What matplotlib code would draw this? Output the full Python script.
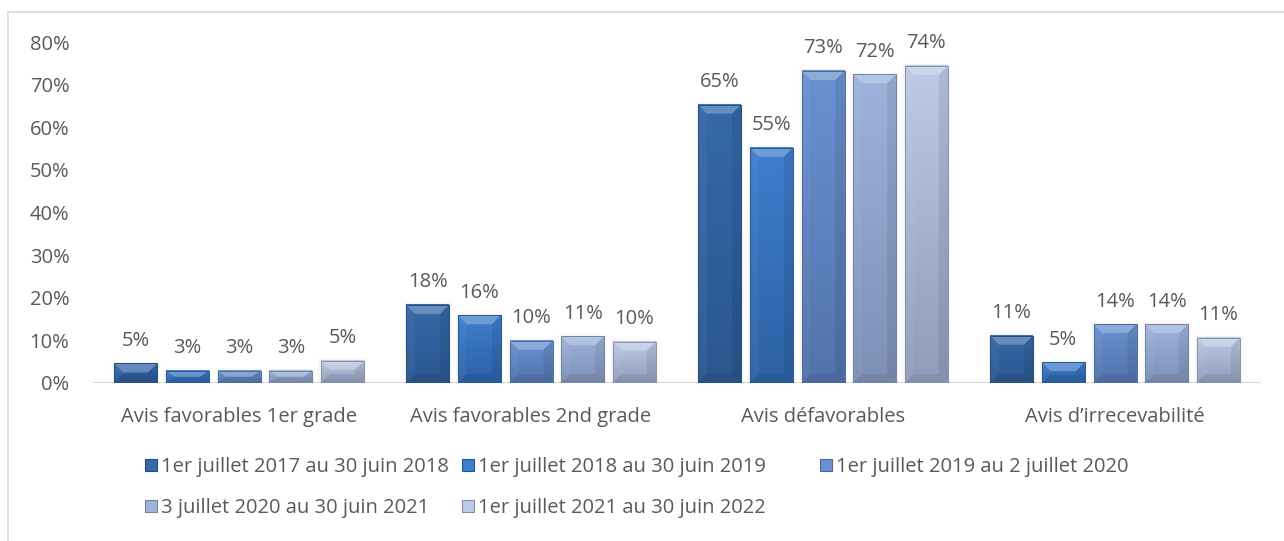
import matplotlib
matplotlib.use("Agg")
import matplotlib.pyplot as plt
import numpy as np
from matplotlib.patches import Polygon, Rectangle
from matplotlib.colors import LinearSegmentedColormap
from matplotlib.lines import Line2D

plt.rcParams['font.family'] = ['Open Sans', 'DejaVu Sans']

###  DATA  ###

categories = ['Avis favorables 1er grade', 'Avis favorables 2nd grade',
              'Avis défavorables', 'Avis d\u2019irrecevabilité']
periods = ['1er juillet 2017 au 30 juin 2018',
           '1er juillet 2018 au 30 juin 2019',
           '1er juillet 2019 au 2 juillet 2020',
           '3 juillet 2020 au 30 juin 2021',
           '1er juillet 2021 au 30 juin 2022']

p2018 = [4.6, 18.3, 65.3, 11.1]
p2019 = [2.9, 15.9, 55.2, 4.9]
p2020 = [2.9, 9.9, 73.2, 13.8]
p2021 = [2.9, 11.0, 72.4, 13.8]
p2022 = [5.2, 9.7, 74.4, 10.6]
series = [p2018, p2019, p2020, p2021, p2022]

yticks = [0, 10, 20, 30, 40, 50, 60, 70, 80]

# face gradient (top colour, bottom colour) and edge colour per period
colors = [('#3569AA', '#2A578F', '#244B7C'),
          ('#3E7ECE', '#2D62A4', '#28558E'),
          ('#6A91CF', '#5173AC', '#4A6A9C'),
          ('#9DB3DC', '#7E90B6', '#72829F'),
          ('#BCCAE6', '#909DBA', '#8590A6')]
txt = '#595959'
fs = 14.5

###  PLOT  ###

W, H = 1284, 541
fig = plt.figure(figsize=(W / 100, H / 100), dpi=100)
ax = fig.add_axes([93 / W, 158 / H, 1168 / W, 341 / H])

px_x = 1168 / 4.0      # pixels per category
px_y = 341 / 80.0      # pixels per percent

step = 51.7 / px_x
width = 43.0 / px_x
bev = 9.0
x = np.arange(len(categories))


def draw_bar(x0, h, top, bot, edge):
    x1 = x0 + width
    # faint glow around the bar
    for g, a in [(3, 0.03), (1.5, 0.05)]:
        gx, gy = g / px_x, g / px_y
        ax.add_patch(Rectangle((x0 - gx, 0), width + 2 * gx, h + gy,
                               facecolor='#808080', alpha=a, lw=0, zorder=1))
    cmap = LinearSegmentedColormap.from_list('f', [bot, top])
    grad = np.linspace(0, 1, 64).reshape(-1, 1)
    ax.imshow(grad, cmap=cmap, origin='lower', aspect='auto',
              extent=(x0, x1, 0, h), zorder=2, interpolation='bilinear')
    bx = min(bev / px_x, width / 2.0)
    by = min(bev / px_y, h / 2.0)
    facets = [
        ([(x0, h), (x1, h), (x1 - bx, h - by), (x0 + bx, h - by)], 'white', 0.25),
        ([(x0, 0), (x0 + bx, by), (x0 + bx, h - by), (x0, h)], 'white', 0.04),
        ([(x1, 0), (x1 - bx, by), (x1 - bx, h - by), (x1, h)], 'black', 0.08),
        ([(x0, 0), (x1, 0), (x1 - bx, by), (x0 + bx, by)], 'black', 0.07),
    ]
    for pts, c, a in facets:
        ax.add_patch(Polygon(pts, closed=True, facecolor=c, alpha=a,
                             lw=0, zorder=3))
    ax.add_patch(Rectangle((x0, 0), width, h, facecolor='none',
                           edgecolor=edge, lw=0.7, zorder=4))


for i, vals in enumerate(series):
    top, bot, edge = colors[i]
    for j, v in enumerate(vals):
        x0 = x[j] - 2.5 * step + i * step + (step - width) / 2.0
        draw_bar(x0, v, top, bot, edge)
        ax.annotate('%d%%' % round(v), (x0 + width / 2.0, v),
                    xytext=(0, 9), textcoords='offset points',
                    ha='center', va='bottom', fontsize=fs, color=txt)

ax.set_xlim(-0.5, 3.5)
ax.set_ylim(0, 80)
ax.set_xticks(x)
ax.set_xticklabels(categories)
ax.set_yticks(yticks)
ax.set_yticklabels(['%d%%' % t for t in yticks])
ax.tick_params(axis='both', length=0, labelsize=fs, labelcolor=txt)
ax.tick_params(axis='y', pad=17)
ax.tick_params(axis='x', pad=17)
for s in ax.spines.values():
    s.set_visible(False)
ax.axhline(0, color='#D9D9D9', lw=1.5, zorder=0)

# chart frame
fig.add_artist(Line2D([8 / W, 1], [1 - 12 / H, 1 - 12 / H], color='#D9D9D9', lw=1.2))
fig.add_artist(Line2D([8 / W, 8 / W], [0, 1 - 12 / H], color='#D9D9D9', lw=1.2))

# legend: three columns, entries filled row by row
handles = [Rectangle((0, 0), 1, 1, facecolor=c[0], edgecolor=c[2], lw=0.8)
           for c in colors]
col_x = [145, 462, 820]
for c, cx in enumerate(col_x):
    idx = [k for k in range(len(periods)) if k % 3 == c]
    leg = fig.legend([handles[k] for k in idx], [periods[k] for k in idx],
                     frameon=False, fontsize=fs, loc='upper left',
                     bbox_to_anchor=(cx / W, 1 - 457 / H), labelcolor=txt,
                     handlelength=0.6, handleheight=0.6, handletextpad=0.2,
                     labelspacing=1.05, borderpad=0, borderaxespad=0)

fig.savefig('out.png', dpi=100)
